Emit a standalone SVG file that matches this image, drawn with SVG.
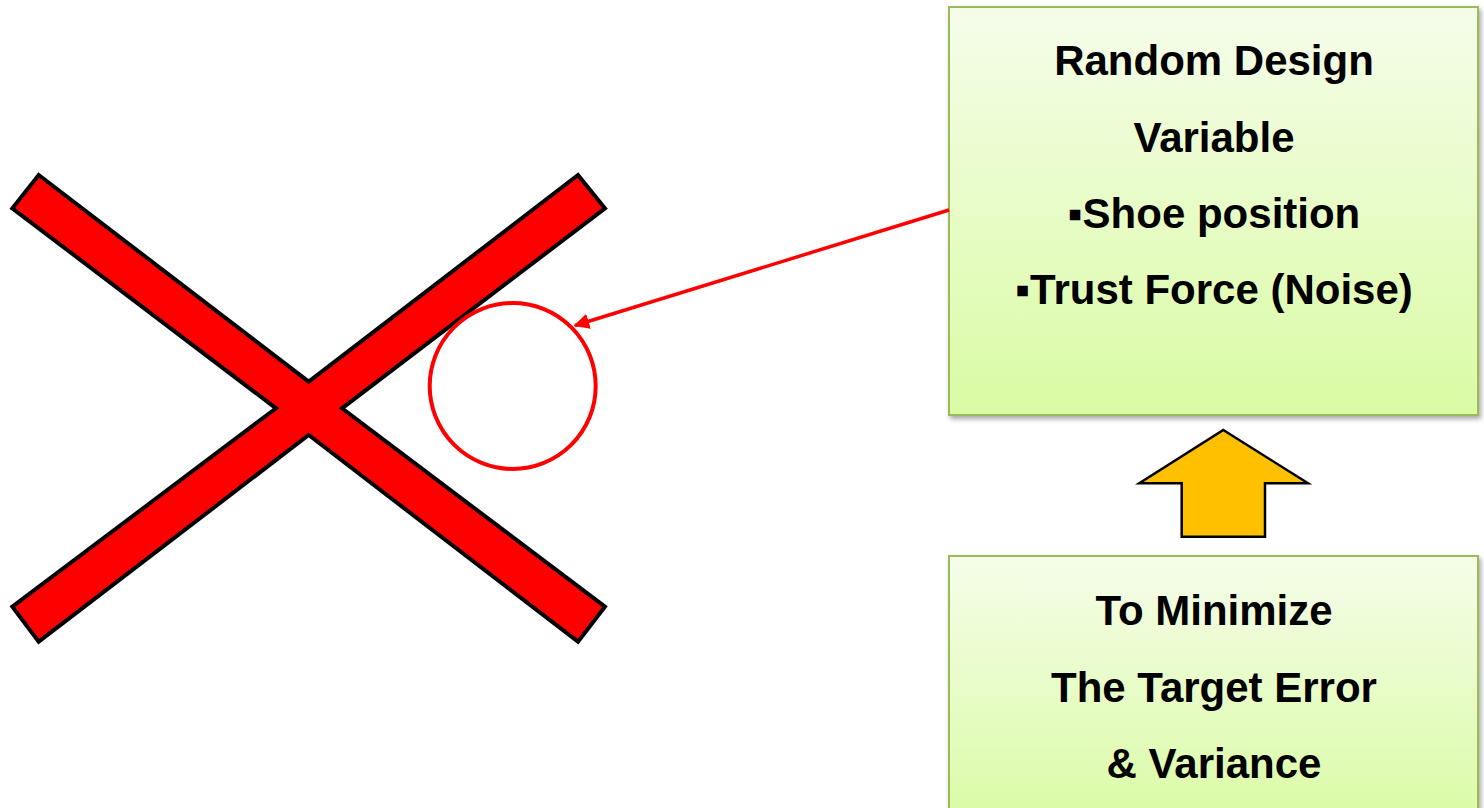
<svg xmlns="http://www.w3.org/2000/svg" width="1484" height="808" viewBox="0 0 1484 808">
  <defs>
    <linearGradient id="boxGrad" x1="0" y1="0" x2="0" y2="1">
      <stop offset="0" stop-color="#F5FDEA"/>
      <stop offset="1" stop-color="#DAFBA4"/>
    </linearGradient>
    <filter id="shadow" x="-5%" y="-5%" width="112%" height="112%">
      <feDropShadow dx="2" dy="3" stdDeviation="2.5" flood-color="#000" flood-opacity="0.35"/>
    </filter>
    <marker id="redArrow" viewBox="0 0 10 10" refX="9" refY="5" markerWidth="4.5" markerHeight="4.5" orient="auto" markerUnits="strokeWidth">
      <path d="M0,0 L10,5 L0,10 z" fill="#FF0000"/>
    </marker>
  </defs>
  <style>
    .box { fill: url(#boxGrad); stroke: #9BBB59; stroke-width: 2; filter: url(#shadow); }
    .label { font-family: "Liberation Sans", Arial, sans-serif; font-weight: bold; font-size: 42px; fill: #000; text-anchor: middle; }
  </style>

  <rect width="1484" height="808" fill="#FFFFFF"/>

  <g id="cross">
    <polygon points="38.7,175 308.7,381.7 578,175 605,208.3 342,408.3 605,606.7 578,641.7 308.7,435 38.7,641.7 12.3,606.7 276,408.3 12.3,208.3" fill="#FF0000" stroke="#000000" stroke-width="4" stroke-linejoin="miter"/>
  </g>

  <g id="circle">
    <circle cx="512.7" cy="386" r="83" fill="none" stroke="#FF0000" stroke-width="4"/>
  </g>

  <g id="box-random">
    <rect class="box" x="949" y="7" width="529" height="408"/>
    <text class="label" x="1214" y="75">Random Design</text>
    <text class="label" x="1214" y="152">Variable</text>
    <text class="label" x="1214" y="228">▪Shoe position</text>
    <text class="label" x="1214" y="304">▪Trust Force (Noise)</text>
  </g>

  <g id="box-minimize">
    <rect class="box" x="949" y="556" width="529" height="270"/>
    <text class="label" x="1214" y="625">To Minimize</text>
    <text class="label" x="1214" y="702">The Target Error</text>
    <text class="label" x="1214" y="778">&amp; Variance</text>
  </g>

  <g id="up-arrow">
    <polygon points="1223.3,430 1308,483.3 1265,483.3 1265,536.7 1181.7,536.7 1181.7,483.3 1139.3,483.3" fill="#FFC000" stroke="#000000" stroke-width="2.5" stroke-linejoin="miter"/>
  </g>

  <g id="connectors">
    <line x1="949" y1="210" x2="575" y2="325.5" stroke="#FF0000" stroke-width="3.5" marker-end="url(#redArrow)"/>
  </g>
</svg>
